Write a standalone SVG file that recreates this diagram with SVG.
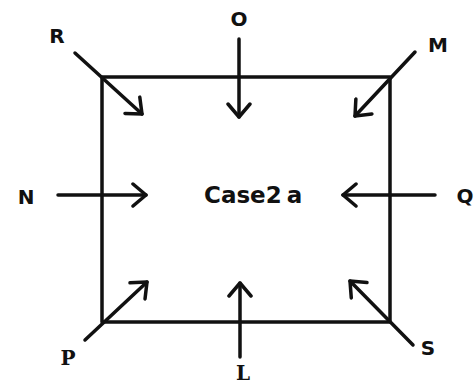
<svg xmlns="http://www.w3.org/2000/svg" width="475" height="387" viewBox="0 0 475 387">
<style>
.ln{stroke:#111;stroke-width:3.5;fill:none;stroke-linecap:round;stroke-linejoin:round}
.lb{font-family:"DejaVu Sans",Verdana,sans-serif;font-weight:bold;font-size:20px;fill:#111;text-anchor:middle;dominant-baseline:central}
.sf{font-family:"DejaVu Serif","Liberation Serif",serif}
.ct{font-family:"DejaVu Sans",Verdana,sans-serif;font-weight:bold;font-size:23px;fill:#111}
</style>
<defs>
<marker id="ah" markerUnits="userSpaceOnUse" markerWidth="26" markerHeight="26" refX="17" refY="13" orient="auto" viewBox="0 0 26 26">
<path d="M4,2 L17,13 L4,24" fill="none" stroke="#111" stroke-width="3.5" stroke-linecap="round" stroke-linejoin="round"/>
</marker>
</defs>
<rect width="475" height="387" fill="#fff"/>
<g id="box"><rect x="102" y="77" width="288" height="245" class="ln" stroke-linejoin="miter"/></g>
<g id="center"><text class="ct" x="204" y="203">Case2<tspan dx="5">a</tspan></text></g>
<g id="connectors">
<line class="ln" x1="75" y1="53" x2="142" y2="114" marker-end="url(#ah)"/>
<line class="ln" x1="239" y1="39" x2="239" y2="117" marker-end="url(#ah)"/>
<line class="ln" x1="415" y1="52" x2="355" y2="116" marker-end="url(#ah)"/>
<line class="ln" x1="58" y1="195" x2="146" y2="195" marker-end="url(#ah)"/>
<line class="ln" x1="435" y1="195" x2="343" y2="195" marker-end="url(#ah)"/>
<line class="ln" x1="85" y1="340" x2="147" y2="282" marker-end="url(#ah)"/>
<line class="ln" x1="240" y1="357" x2="240" y2="283" marker-end="url(#ah)"/>
<line class="ln" x1="413" y1="345" x2="350" y2="281" marker-end="url(#ah)"/>
</g>
<g id="R"><text class="lb" x="57" y="36">R</text></g>
<g id="O"><text class="lb" x="239" y="19">O</text></g>
<g id="M"><text class="lb" x="438" y="45">M</text></g>
<g id="N"><text class="lb" x="26" y="197">N</text></g>
<g id="Q"><text class="lb" x="465" y="196">Q</text></g>
<g id="P"><text class="lb sf" x="68" y="358">P</text></g>
<g id="L"><text class="lb sf" x="243" y="373">L</text></g>
<g id="S"><text class="lb" x="428" y="348">S</text></g>
</svg>
